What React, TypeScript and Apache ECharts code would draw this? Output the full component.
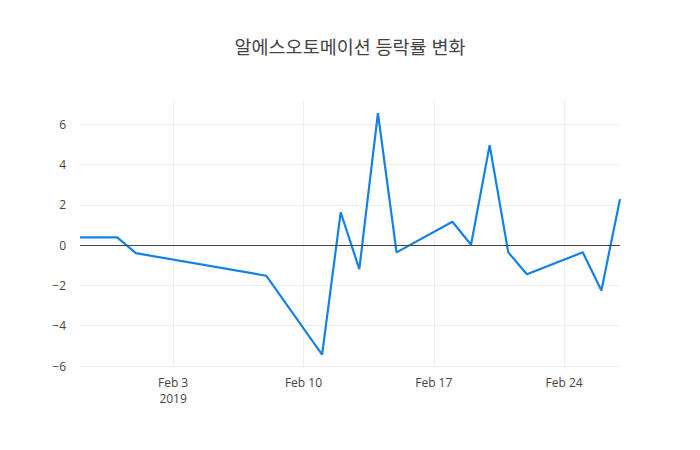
import { useEffect, useRef } from "react";
import * as echarts from "echarts";

// trading days and daily change rate (%)
const dates = [
    "2019-01-29", "2019-01-30", "2019-01-31", "2019-02-01", "2019-02-08",
    "2019-02-11", "2019-02-12", "2019-02-13", "2019-02-14", "2019-02-15",
    "2019-02-18", "2019-02-19", "2019-02-20", "2019-02-21", "2019-02-22",
    "2019-02-25", "2019-02-26", "2019-02-27",
];
const changes = [
    0.38, 0.38, 0.38, -0.4, -1.52,
    -5.44, 1.62, -1.19, 6.55, -0.36,
    1.16, 0.02, 4.96, -0.36, -1.45,
    -0.36, -2.25, 2.28,
];
const xStart = "2019-01-29";
const xEnd = "2019-02-27";
const xTicks = ["2019-02-03", "2019-02-10", "2019-02-17", "2019-02-24"];
const xTickLabels = ["Feb 3\n2019", "Feb 10", "Feb 17", "Feb 24"];

const TITLE = "알에스오토메이션 등락률 변화";
const FONT = "'Open Sans', 'Noto Sans CJK KR', sans-serif";

// day number (UTC) so the x axis is a plain value axis
const toDay = (d: string) => Math.round(Date.UTC(+d.slice(0, 4), +d.slice(5, 7) - 1, +d.slice(8, 10)) / 86400000);

export default function App() {
    const chartRef = useRef<HTMLDivElement | null>(null);

    useEffect(() => {
        if (!chartRef.current) return;
        const chart = echarts.init(chartRef.current, null, { renderer: "svg" });

        const tickDays = xTicks.map(toDay);

        chart.setOption({
            animation: false,
            backgroundColor: "#fff",
            title: {
                text: TITLE,
                left: "center",
                top: 32,
                textStyle: { fontFamily: FONT, fontSize: 18.5, fontWeight: "normal", color: "#444" },
            },
            grid: { left: 80, right: 80, top: 100, bottom: 84 },
            xAxis: {
                type: "value",
                min: toDay(xStart),
                max: toDay(xEnd),
                axisLine: { show: false },
                axisTick: { show: false, customValues: tickDays },
                axisLabel: {
                    customValues: tickDays,
                    color: "#444",
                    fontFamily: FONT,
                    fontSize: 12,
                    lineHeight: 16,
                    margin: 8,
                    formatter: (v: number) => {
                        const i = tickDays.indexOf(v);
                        return i >= 0 ? xTickLabels[i] : "";
                    },
                },
                splitLine: { show: true, lineStyle: { color: "#eee", width: 1 } },
            },
            yAxis: {
                type: "value",
                min: -6,
                max: 7.2,
                interval: 2,
                axisLine: { show: false },
                axisTick: { show: false },
                axisLabel: {
                    color: "#444",
                    fontFamily: FONT,
                    fontSize: 12,
                    margin: 14,
                    showMaxLabel: false,
                    formatter: (v: number) => (Number.isInteger(v) ? String(v).replace("-", "\u2212") : ""),
                },
                splitLine: { show: true, showMaxLine: false, lineStyle: { color: "#eee", width: 1 } },
            },
            series: [
                {
                    type: "line",
                    data: dates.map((d, i) => [toDay(d), changes[i]]),
                    symbol: "none",
                    lineStyle: { color: "#1481e6", width: 2.2 },
                    markLine: {
                        silent: true,
                        symbol: "none",
                        label: { show: false },
                        lineStyle: { color: "#444", width: 1, type: "solid" },
                        data: [{ yAxis: 0 }],
                    },
                },
            ],
        });

        return () => chart.dispose();
    }, []);

    return <div ref={chartRef} style={{ width: 700, height: 450, margin: -8 }} />;
}
